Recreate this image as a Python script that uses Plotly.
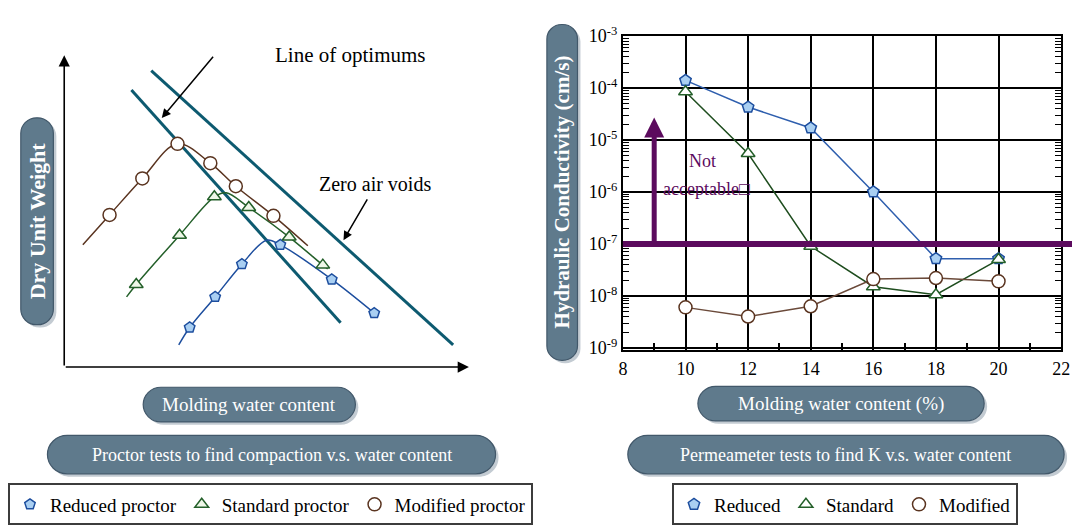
import math
import plotly.graph_objects as go

W, H = 1081, 529
SERIF = "Liberation Serif"

# ---------------- Right chart data: permeameter tests ----------------
water_content = [10, 12, 14, 16, 18, 20]
k_reduced = [1.4e-4, 4.3e-5, 1.7e-5, 1.0e-6, 5.2e-8, 5.2e-8]
k_standard = [8.5e-5, 5.5e-6, 9.0e-8, 1.5e-8, 1.05e-8, 5.0e-8]
k_modified = [6.0e-9, 4.0e-9, 6.3e-9, 2.1e-8, 2.2e-8, 1.9e-8]
k_limit = 1e-7          # acceptance limit
k_arrow_top = 2.7e-5    # top of "not acceptable" arrow
arrow_water = 9
x_ticks = [8, 10, 12, 14, 16, 18, 20, 22]
x_minor = [9, 11, 13, 15, 17, 19, 21]
y_exponents = [-9, -8, -7, -6, -5, -4, -3]

# ---------------- Left chart data: proctor tests (schematic units 0-100) ----------------
mod_w = [11.2, 19.3, 28.0, 36.1, 42.4, 51.7]
mod_g = [48.8, 60.5, 71.6, 65.4, 58.0, 48.5]
mod_curve_w = [4.6, 11.2, 19.3, 28.0, 36.1, 42.4, 51.7, 60.2]
mod_curve_g = [39.2, 48.8, 60.5, 71.6, 65.4, 58.0, 48.5, 38.9]

std_w = [17.8, 28.5, 37.1, 45.6, 55.6, 63.9]
std_g = [26.5, 42.3, 54.6, 51.2, 41.7, 32.7]
std_curve_w = [15.4, 17.8, 28.5, 37.1, 40.0, 45.6, 55.6, 63.9, 65.1]
std_curve_g = [22.5, 26.5, 42.3, 54.6, 55.9, 51.2, 41.7, 32.7, 31.5]

red_w = [31.0, 37.3, 43.9, 53.4, 66.1, 76.6]
red_g = [12.7, 22.5, 33.0, 39.2, 28.1, 17.3]
red_curve_w = [28.3, 31.0, 37.3, 43.9, 50.0, 53.4, 66.1, 76.6]
red_curve_g = [7.1, 12.7, 22.5, 33.0, 40.7, 39.2, 28.1, 17.3]

zav_w = [21.5, 96.1]
zav_g = [95.1, 7.1]
opt_w = [16.6, 68.3]
opt_g = [88.9, 14.2]

# ---------------- colours ----------------
BLUE_L, BLUE_F = "#1d4e9e", "#a9cff2"
GREEN_L = "#24602a"
BROWN_L = "#5a3420"
TEAL = "#0d5a70"
PURPLE = "#5c0b5e"
PILL = "#5f7a8c"
PILL_EDGE = "#42586a"
SHADOW = "#c3cbd2"

fig = go.Figure()

# ---- left chart traces ----
for xw, yg in [(zav_w, zav_g), (opt_w, opt_g)]:
    fig.add_trace(go.Scatter(x=xw, y=yg, mode="lines", line=dict(color=TEAL, width=3),
                             xaxis="x2", yaxis="y2", showlegend=False, hoverinfo="skip"))
for cw, cg, col in [(mod_curve_w, mod_curve_g, BROWN_L), (std_curve_w, std_curve_g, GREEN_L),
                    (red_curve_w, red_curve_g, BLUE_L)]:
    fig.add_trace(go.Scatter(x=cw, y=cg, mode="lines",
                             line=dict(color=col, width=1.5, shape="spline", smoothing=1.0),
                             xaxis="x2", yaxis="y2", showlegend=False, hoverinfo="skip"))
fig.add_trace(go.Scatter(x=red_w, y=red_g, mode="markers", name="Reduced proctor",
                         marker=dict(symbol="pentagon", size=11, color=BLUE_F, line=dict(color=BLUE_L, width=1.5)),
                         xaxis="x2", yaxis="y2", legend="legend"))
fig.add_trace(go.Scatter(x=std_w, y=std_g, mode="markers", name="Standard proctor",
                         marker=dict(symbol="triangle-up", size=12, color="#eef7e8", line=dict(color=GREEN_L, width=1.5)),
                         xaxis="x2", yaxis="y2", legend="legend"))
fig.add_trace(go.Scatter(x=mod_w, y=mod_g, mode="markers", name="Modified proctor",
                         marker=dict(symbol="circle", size=13, color="white", line=dict(color=BROWN_L, width=1.5)),
                         xaxis="x2", yaxis="y2", legend="legend"))

# ---- right chart traces ----
for ys, col in [(k_reduced, "#2f5fae"), (k_standard, "#1e4d1e"), (k_modified, "#6b4a3a")]:
    fig.add_trace(go.Scatter(x=water_content, y=ys, mode="lines", line=dict(color=col, width=1.5),
                             showlegend=False, hoverinfo="skip"))
fig.add_trace(go.Scatter(x=water_content, y=k_reduced, mode="markers", name="Reduced",
                         marker=dict(symbol="pentagon", size=12, color=BLUE_F, line=dict(color=BLUE_L, width=1.5)),
                         legend="legend2"))
fig.add_trace(go.Scatter(x=water_content, y=k_standard, mode="markers", name="Standard",
                         marker=dict(symbol="triangle-up", size=12, color="white", line=dict(color=GREEN_L, width=1.5)),
                         legend="legend2"))
fig.add_trace(go.Scatter(x=water_content, y=k_modified, mode="markers", name="Modified",
                         marker=dict(symbol="circle", size=13, color="white", line=dict(color=BROWN_L, width=1.5)),
                         legend="legend2"))


# ---------------- helpers for layout decorations ----------------
def fx(px):
    return px / W


def fy(py):
    return 1 - py / H


def pill_path(x0, y0, x1, y1, r):
    k = 0.5523 * r
    pts = [
        f"M{fx(x0 + r)},{fy(y0)}", f"L{fx(x1 - r)},{fy(y0)}",
        f"C{fx(x1 - r + k)},{fy(y0)} {fx(x1)},{fy(y0 + r - k)} {fx(x1)},{fy(y0 + r)}",
        f"L{fx(x1)},{fy(y1 - r)}",
        f"C{fx(x1)},{fy(y1 - r + k)} {fx(x1 - r + k)},{fy(y1)} {fx(x1 - r)},{fy(y1)}",
        f"L{fx(x0 + r)},{fy(y1)}",
        f"C{fx(x0 + r - k)},{fy(y1)} {fx(x0)},{fy(y1 - r + k)} {fx(x0)},{fy(y1 - r)}",
        f"L{fx(x0)},{fy(y0 + r)}",
        f"C{fx(x0)},{fy(y0 + r - k)} {fx(x0 + r - k)},{fy(y0)} {fx(x0 + r)},{fy(y0)}", "Z"]
    return " ".join(pts)


shapes = []
annotations = []
pills = [
    # (x0, y0, x1, y1, radius, text, font size, bold, angle)
    (16, 110, 49, 325, 16, "Dry Unit Weight", 22, True, -90),
    (549, 13, 580, 362, 15, "Hydraulic Conductivity (cm/s)", 21, True, -90),
    (140, 390, 355, 426, 18, "Molding water content", 19, False, 0),
    (43, 440, 497, 480, 20, "Proctor tests to find compaction v.s. water content", 18, False, 0),
    (702, 389, 992, 425, 18, "Molding water content (%)", 19, False, 0),
    (631, 440, 1073, 480, 20, "Permeameter tests to find K v.s. water content", 18, False, 0),
]
for x0, y0, x1, y1, r, txt, fs, bold, ang in pills:
    shapes.append(dict(type="path", xref="paper", yref="paper", layer="below",
                       path=pill_path(x0 + 3, y0 + 3, x1 + 3, y1 + 3, r),
                       fillcolor=SHADOW, line=dict(width=0)))
    shapes.append(dict(type="path", xref="paper", yref="paper", layer="below",
                       path=pill_path(x0, y0, x1, y1, r),
                       fillcolor=PILL, line=dict(color=PILL_EDGE, width=1.2)))
    annotations.append(dict(xref="paper", yref="paper", x=fx((x0 + x1) / 2), y=fy((y0 + y1) / 2),
                            text=f"<b>{txt}</b>" if bold else txt, showarrow=False, textangle=ang,
                            font=dict(family=SERIF, size=fs, color="white"),
                            xanchor="center", yanchor="middle"))

# purple acceptance line (right chart) extending to figure edge
y_range = [-9.037, -3]
lim_frac = (math.log10(k_limit) - y_range[0]) / (y_range[1] - y_range[0])
shapes.append(dict(type="line", xref="paper", yref="y domain", x0=fx(626), x1=1.0,
                   y0=lim_frac, y1=lim_frac, line=dict(color=PURPLE, width=6), layer="above"))

# purple arrow
annotations.append(dict(xref="x", yref="y", x=arrow_water, y=math.log10(k_arrow_top),
                        axref="x", ayref="y", ax=arrow_water, ay=math.log10(k_limit),
                        text="", showarrow=True, arrowhead=2, arrowsize=0.8, arrowwidth=5,
                        arrowcolor=PURPLE, standoff=0))
annotations.append(dict(xref="x", yref="y", x=10.55, y=-5.40, text="Not", showarrow=False,
                        font=dict(family=SERIF, size=18, color=PURPLE)))
annotations.append(dict(xref="x", yref="y", x=10.68, y=-5.94, text="acceptable\u25a1", showarrow=False,
                        font=dict(family=SERIF, size=18, color=PURPLE)))

# left chart: axis arrows
annotations.append(dict(xref="x2", yref="y2", x=0, y=100, axref="x2", ayref="y2", ax=0, ay=0,
                        text="", showarrow=True, arrowhead=2, arrowsize=1.4, arrowwidth=1.6,
                        arrowcolor="black", standoff=0))
annotations.append(dict(xref="x2", yref="y2", x=100, y=0, axref="x2", ayref="y2", ax=0, ay=0,
                        text="", showarrow=True, arrowhead=2, arrowsize=1.4, arrowwidth=1.6,
                        arrowcolor="black", standoff=0))
# left chart: labels with pointer arrows
annotations.append(dict(xref="paper", yref="paper", x=fx(272), y=fy(30), text="Line of optimums",
                        showarrow=False, font=dict(family=SERIF, size=21, color="black")))
annotations.append(dict(xref="x2", yref="y2", x=24.1, y=79.9, axref="x2", ayref="y2", ax=37.1, ay=100,
                        text="", showarrow=True, arrowhead=2, arrowsize=1.2, arrowwidth=1.5,
                        arrowcolor="black", standoff=0))
annotations.append(dict(xref="x2", yref="y2", x=76.8, y=58.6, text="Zero air voids", showarrow=False,
                        font=dict(family=SERIF, size=20, color="black")))
annotations.append(dict(xref="x2", yref="y2", x=69.0, y=40.7, axref="x2", ayref="y2", ax=75.1, ay=54.3,
                        text="", showarrow=True, arrowhead=2, arrowsize=1.2, arrowwidth=1.5,
                        arrowcolor="black", standoff=0))

tickfont = dict(family=SERIF, size=18, color="black")
y_minor = [m * 10 ** e for e in y_exponents[:-1] for m in range(2, 10)]

fig.update_layout(
    width=W, height=H, autosize=False,
    margin=dict(l=0, r=0, t=0, b=0),
    paper_bgcolor="white", plot_bgcolor="white",
    shapes=shapes, annotations=annotations,
    xaxis=dict(domain=[fx(626), fx(1070)], range=[8, 22], tickmode="array", tickvals=x_ticks,
               ticks="", showgrid=True, gridcolor="black", gridwidth=2,
               showline=True, linecolor="black", linewidth=2, mirror=True, zeroline=False,
               tickfont=tickfont, ticklabelstandoff=2,
               minor=dict(tickmode="array", tickvals=x_minor, ticks="inside", ticklen=7,
                          tickwidth=1.5, tickcolor="black", showgrid=False)),
    yaxis=dict(domain=[fy(351), fy(25)], type="log", range=y_range, tickmode="array",
               tickvals=[10 ** e for e in y_exponents],
               ticktext=[f"10<sup>{e}</sup>" for e in y_exponents],
               ticks="inside", ticklen=8, tickwidth=1.5, tickcolor="black",
               showgrid=True, gridcolor="black", gridwidth=2,
               showline=True, linecolor="black", linewidth=2, mirror="ticks", zeroline=False,
               tickfont=tickfont,
               minor=dict(tickmode="array", tickvals=y_minor, ticks="inside", ticklen=6,
                          tickwidth=1.2, tickcolor="black", showgrid=False)),
    xaxis2=dict(domain=[fx(60), fx(470)], range=[0, 100], visible=False, anchor="y2"),
    yaxis2=dict(domain=[fy(369), fy(45)], range=[0, 100], visible=False, anchor="x2"),
    legend=dict(orientation="h", x=fx(3), y=fy(490), xanchor="left", yanchor="top",
                font=dict(family=SERIF, size=19, color="black"), bordercolor="#3c3c3c",
                borderwidth=2, bgcolor="white", itemwidth=30),
    legend2=dict(orientation="h", x=fx(851), y=fy(490), xanchor="center", yanchor="top",
                 font=dict(family=SERIF, size=19, color="black"), bordercolor="#3c3c3c",
                 borderwidth=2, bgcolor="white", itemwidth=30),
    showlegend=True,
)

fig.write_html("out.html")
